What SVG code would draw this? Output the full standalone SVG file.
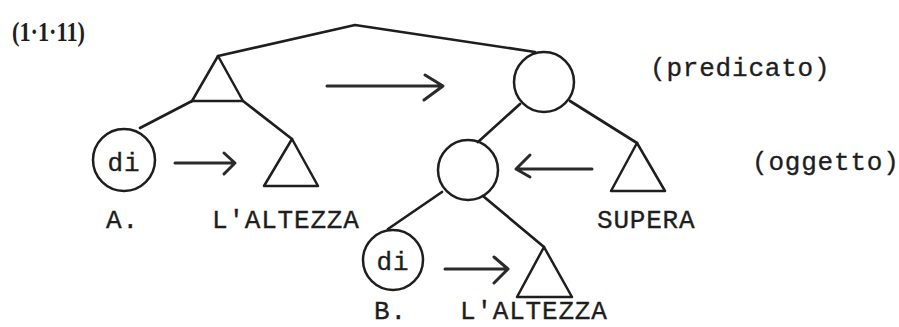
<svg xmlns="http://www.w3.org/2000/svg" width="899" height="327" viewBox="0 0 899 327">
  <style>
    .shape { fill: none; stroke: #1e1e1e; stroke-width: 2.5; stroke-linejoin: round; stroke-linecap: round; }
    .edge { fill: none; stroke: #1e1e1e; stroke-width: 2.7; stroke-linecap: round; stroke-linejoin: round; }
    .arrow { fill: none; stroke: #2a2a2a; stroke-width: 3; stroke-linecap: round; stroke-linejoin: round; }
    .t { font-family: "Liberation Mono", "DejaVu Sans Mono", monospace; font-size: 26px; letter-spacing: 0.8px; fill: #1e1e1e; stroke: #1e1e1e; stroke-width: 0.35; }
    .tc { text-anchor: middle; }
  </style>
  <rect width="899" height="327" fill="#ffffff"/>

  <!-- example number -->
  <text x="12" y="41" font-family="Liberation Serif, serif" font-size="27" font-weight="bold" fill="#1e1e1e" textLength="73" lengthAdjust="spacingAndGlyphs">(1·1·11)</text>

  <!-- tree edges -->
  <g id="connectors">
    <polyline class="edge" points="218,56 355,25 535,52"/>
    <line class="edge" x1="192" y1="101" x2="140" y2="128"/>
    <line class="edge" x1="243" y1="101" x2="292" y2="139"/>
    <line class="edge" x1="520" y1="104" x2="478" y2="142"/>
    <line class="edge" x1="570" y1="101" x2="637" y2="143"/>
    <line class="edge" x1="442" y1="192" x2="388" y2="229"/>
    <line class="edge" x1="483" y1="196" x2="544" y2="247"/>
    <!-- transformation arrows -->
    <path class="arrow" d="M327,86 H443 M425,75 L443,86 L424,100"/>
    <path class="arrow" d="M175,163 H235 M224,153 L235,163 L224,174"/>
    <path class="arrow" d="M592,169 H516 M530,155 L516,169 L530,177"/>
    <path class="arrow" d="M445,269 H508 M494,257 L508,269 L494,283"/>
  </g>

  <g id="subject-triangle">
    <polygon class="shape" points="218,56 192,101 243,101"/>
  </g>
  <g id="predicate-node">
    <circle class="shape" cx="544" cy="82" r="30"/>
    <text class="t" x="650" y="76">(predicato)</text>
  </g>
  <g id="di-a">
    <circle class="shape" cx="124" cy="160" r="31"/>
    <text class="t tc" x="124" y="171">di</text>
    <text class="t" x="106" y="228">A.</text>
  </g>
  <g id="altezza-a">
    <polygon class="shape" points="292,139 264,186 318,186"/>
    <text class="t" x="212" y="228">L'ALTEZZA</text>
  </g>
  <g id="object-node">
    <circle class="shape" cx="468" cy="170" r="30"/>
    <text class="t" x="752" y="170">(oggetto)</text>
  </g>
  <g id="supera">
    <polygon class="shape" points="637,143 611,191 665,191"/>
    <text class="t" x="597" y="228">SUPERA</text>
  </g>
  <g id="di-b">
    <circle class="shape" cx="393" cy="260" r="30"/>
    <text class="t tc" x="393" y="270">di</text>
    <text class="t" x="374" y="319">B.</text>
  </g>
  <g id="altezza-b">
    <polygon class="shape" points="544,247 517,297 572,297"/>
    <text class="t" x="460" y="319">L'ALTEZZA</text>
  </g>
</svg>
